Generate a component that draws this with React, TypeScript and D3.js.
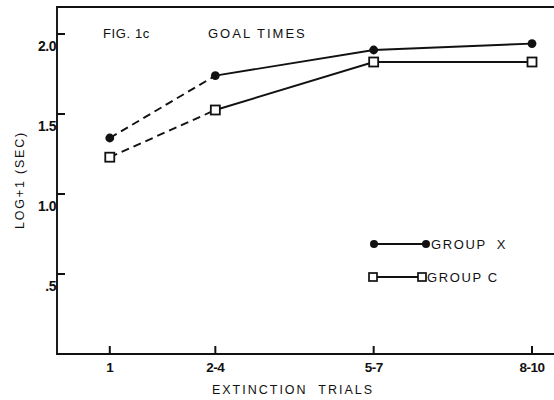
import { useEffect, useRef } from "react";
import * as d3 from "d3";

// x positions are the midpoints of each trial block (1, 2-4, 5-7, 8-10)
const trialLabels = ["1", "2-4", "5-7", "8-10"];
const trialMids = [1, 3, 6, 9];
const groupX = [1.35, 1.74, 1.9, 1.94];
const groupC = [1.23, 1.525, 1.825, 1.825];
const yTicks = [0.5, 1.0, 1.5, 2.0];
const yTickLabels = [".5", "1.0", "1.5", "2.0"];

export default function App() {
  const ref = useRef<SVGSVGElement>(null);

  useEffect(() => {
    const svg = d3.select(ref.current);
    svg.selectAll("*").remove();

    const left = 57;
    const bottom = 354;
    const top = 7;
    const right = 554;
    const font = "'Liberation Sans', Arial, sans-serif";
    const narrow = "'Liberation Sans Narrow', 'Liberation Sans', Arial, sans-serif";
    const ink = "#111";

    const x = d3.scaleLinear().domain([0, 9]).range([left, 532]);
    const y = d3.scaleLinear().domain([0, 2]).range([bottom, 34]);

    // frame: left, top, bottom (no right side)
    svg
      .append("path")
      .attr("d", `M${right},${top}H${left}V${bottom}H${right}`)
      .attr("fill", "none")
      .attr("stroke", ink)
      .attr("stroke-width", 1.9);

    // y ticks (inward)
    yTicks.forEach((v, i) => {
      svg
        .append("line")
        .attr("x1", left)
        .attr("x2", left + 8)
        .attr("y1", y(v))
        .attr("y2", y(v))
        .attr("stroke", ink)
        .attr("stroke-width", 2);
      svg
        .append("text")
        .attr("x", left - 1)
        .attr("y", y(v) + 17)
        .attr("text-anchor", "end")
        .style("font-family", narrow)
        .style("font-size", "14px")
        .style("font-weight", "bold")
        .style("letter-spacing", "-0.5px")
        .attr("fill", ink)
        .text(yTickLabels[i]);
    });

    // x ticks (inward)
    trialMids.forEach((t, i) => {
      svg
        .append("line")
        .attr("x1", x(t))
        .attr("x2", x(t))
        .attr("y1", bottom)
        .attr("y2", bottom - 8)
        .attr("stroke", ink)
        .attr("stroke-width", 2);
      svg
        .append("text")
        .attr("x", x(t))
        .attr("y", bottom + 18)
        .attr("text-anchor", "middle")
        .style("font-family", narrow)
        .style("font-size", "13.5px")
        .style("font-weight", "bold")
        .style("letter-spacing", "-0.5px")
        .attr("fill", ink)
        .text(trialLabels[i]);
    });

    // axis titles
    svg
      .append("text")
      .attr("x", 293)
      .attr("y", 394)
      .attr("text-anchor", "middle")
      .attr("xml:space", "preserve")
      .style("font-family", font)
      .style("font-size", "12.5px")
      .style("letter-spacing", "2px")
      .attr("fill", ink)
      .text("EXTINCTION  TRIALS");

    svg
      .append("text")
      .attr("transform", "translate(24,180) rotate(-90)")
      .attr("text-anchor", "middle")
      .style("font-family", font)
      .style("font-size", "12.5px")
      .style("letter-spacing", "1.8px")
      .attr("fill", ink)
      .text("LOG+1 (SEC)");

    // figure labels
    svg
      .append("text")
      .attr("x", 103)
      .attr("y", 38)
      .style("font-family", font)
      .style("font-size", "13px")
      .style("letter-spacing", "0.6px")
      .attr("fill", ink)
      .text("FIG. 1c");
    svg
      .append("text")
      .attr("x", 208)
      .attr("y", 38)
      .style("font-family", font)
      .style("font-size", "13px")
      .style("letter-spacing", "2px")
      .attr("fill", ink)
      .text("GOAL TIMES");

    const line = d3
      .line<[number, number]>()
      .x((d) => x(d[0]))
      .y((d) => y(d[1]));

    const drawSeries = (vals: number[], filled: boolean) => {
      const pts: [number, number][] = vals.map((v, i) => [trialMids[i], v]);
      // dashed first segment, solid for the rest
      svg
        .append("path")
        .attr("d", line(pts.slice(0, 2)))
        .attr("fill", "none")
        .attr("stroke", ink)
        .attr("stroke-width", 1.9)
        .attr("stroke-dasharray", "8,5");
      svg
        .append("path")
        .attr("d", line(pts.slice(1)))
        .attr("fill", "none")
        .attr("stroke", ink)
        .attr("stroke-width", 1.9);
      pts.forEach(([t, v]) => {
        if (filled) {
          svg
            .append("circle")
            .attr("cx", x(t))
            .attr("cy", y(v))
            .attr("r", 4.4)
            .attr("fill", ink);
        } else {
          svg
            .append("rect")
            .attr("x", x(t) - 4.5)
            .attr("y", y(v) - 4.5)
            .attr("width", 9)
            .attr("height", 9)
            .attr("fill", "white")
            .attr("stroke", ink)
            .attr("stroke-width", 1.8);
        }
      });
    };

    drawSeries(groupX, true);
    drawSeries(groupC, false);

    // legend
    const legendRows = [
      { label: "GROUP  X", filled: true, y: 244, x1: 374, x2: 426 },
      { label: "GROUP C", filled: false, y: 277, x1: 373, x2: 422 },
    ];
    legendRows.forEach((r) => {
      svg
        .append("line")
        .attr("x1", r.x1)
        .attr("x2", r.x2)
        .attr("y1", r.y)
        .attr("y2", r.y)
        .attr("stroke", ink)
        .attr("stroke-width", 1.8);
      [r.x1, r.x2].forEach((cx) => {
        if (r.filled) {
          svg.append("circle").attr("cx", cx).attr("cy", r.y).attr("r", 4).attr("fill", ink);
        } else {
          svg
            .append("rect")
            .attr("x", cx - 4)
            .attr("y", r.y - 4)
            .attr("width", 8)
            .attr("height", 8)
            .attr("fill", "white")
            .attr("stroke", ink)
            .attr("stroke-width", 1.7);
        }
      });
      svg
        .append("text")
        .attr("x", r.x2 + 5)
        .attr("y", r.y + 5)
        .attr("xml:space", "preserve")
        .style("font-family", font)
        .style("font-size", "13px")
        .style("letter-spacing", "1.6px")
        .attr("fill", ink)
        .text(r.label);
    });
  }, []);

  return (
    <svg
      ref={ref}
      width={554}
      height={400}
      style={{ position: "absolute", left: 0, top: 0, background: "white" }}
    />
  );
}
